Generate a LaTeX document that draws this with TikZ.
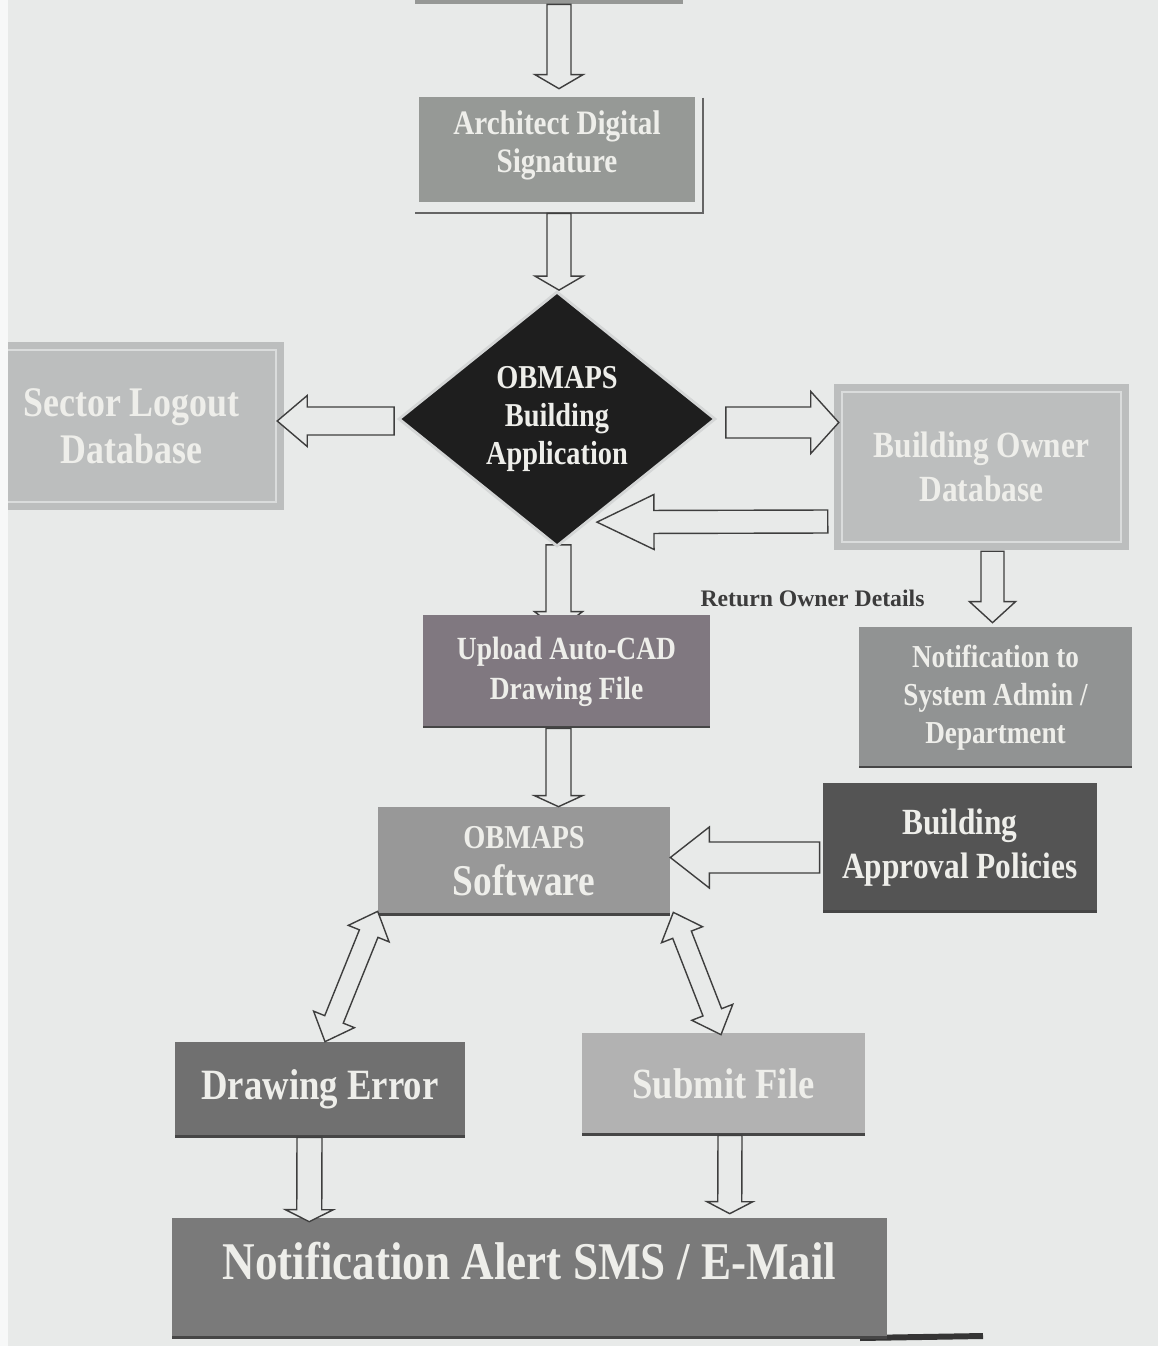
\documentclass[tikz,border=0pt]{standalone}
\usepackage{fontspec}
\setmainfont{Liberation Serif}
\newfontfamily\boxfont{Liberation Serif}[FakeStretch=0.85]
\usepackage{tikz}
\usetikzlibrary{calc,shapes.geometric,backgrounds}
\definecolor{pagebg}    {RGB}{232,234,233}
\definecolor{edgewhite} {RGB}{247,248,248}
\definecolor{arrline}   {RGB}{62,62,62}
\definecolor{boxtext}   {RGB}{238,238,234}
\definecolor{topgray}   {RGB}{150,152,150}
\definecolor{archgray}  {RGB}{150,153,150}
\definecolor{diamblack} {RGB}{30,30,30}
\definecolor{diamedge}  {RGB}{212,214,214}
\definecolor{dbgray}    {RGB}{188,190,190}
\definecolor{dbframe}   {RGB}{218,220,220}
\definecolor{notegray}  {RGB}{145,147,147}
\definecolor{uploadgray}{RGB}{128,120,128}
\definecolor{softgray}  {RGB}{152,152,152}
\definecolor{policygray}{RGB}{84,84,84}
\definecolor{errorgray} {RGB}{112,112,112}
\definecolor{submitgray}{RGB}{178,178,178}
\definecolor{alertgray} {RGB}{122,122,122}
\definecolor{labelgray} {RGB}{60,60,60}
\definecolor{edgedark}  {RGB}{70,70,70}
\def\pxu{0.02cm}
\tikzset{
  box/.style={rectangle,fill=#1,text=boxtext,align=center,inner sep=0pt,
              font=\boxfont\bfseries},
  boxsh/.style={box=#1,path picture={
              \draw[edgedark,line width=2.2pt]
                (path picture bounding box.south west) --
                (path picture bounding box.south east);}},
  dbbox/.style={box=dbgray,draw=dbgray,double=dbframe,double distance=1.6pt,
              line width=3.7pt},
  decision/.style={diamond,fill=diamblack,draw=diamedge,line width=1.6pt,
              text=boxtext,align=center,inner sep=0pt,font=\boxfont\bfseries},
  fs/.style 2 args={font=\boxfont\bfseries\fontsize{#1}{#2}\selectfont},
  hollow/.style={draw=arrline,fill=pagebg,line width=0.8pt,line join=miter},
  framedark/.style={draw=arrline!80,line width=1.2pt},
}
% block arrow: shaft half width, head half width, head length (px), from, to
\newcommand{\blockarrow}[5]{%
  \path (#4) coordinate (ba-a) (#5) coordinate (ba-b);
  \coordinate (ba-h) at ($(ba-b)!#3*\pxu!(ba-a)$);
  \filldraw[hollow] ($(ba-a)!#1*\pxu!90:(ba-b)$) -- ($(ba-h)!#1*\pxu!-90:(ba-a)$)
    -- ($(ba-h)!#2*\pxu!-90:(ba-a)$) -- (ba-b) -- ($(ba-h)!#2*\pxu!90:(ba-a)$)
    -- ($(ba-h)!#1*\pxu!90:(ba-a)$) -- ($(ba-a)!#1*\pxu!-90:(ba-b)$) -- cycle;
}
\newcommand{\blockarrowboth}[5]{%
  \path (#4) coordinate (ba-a) (#5) coordinate (ba-b);
  \coordinate (ba-h) at ($(ba-b)!#3*\pxu!(ba-a)$);
  \coordinate (ba-g) at ($(ba-a)!#3*\pxu!(ba-b)$);
  \filldraw[hollow] (ba-a) -- ($(ba-g)!#2*\pxu!90:(ba-b)$)
    -- ($(ba-g)!#1*\pxu!90:(ba-b)$) -- ($(ba-h)!#1*\pxu!-90:(ba-a)$)
    -- ($(ba-h)!#2*\pxu!-90:(ba-a)$) -- (ba-b) -- ($(ba-h)!#2*\pxu!90:(ba-a)$)
    -- ($(ba-h)!#1*\pxu!90:(ba-a)$) -- ($(ba-g)!#1*\pxu!-90:(ba-b)$)
    -- ($(ba-g)!#2*\pxu!-90:(ba-b)$) -- cycle;
}

\begin{document}
\begin{tikzpicture}[x=0.02cm,y=-0.02cm]
\begin{pgfonlayer}{background}
  \fill[pagebg] (0,0) rectangle (1158,1346);
  \draw[line width=3.4pt,color=diamblack!90] (860,1338) -- (983,1336);
\end{pgfonlayer}
\useasboundingbox (0,0) rectangle (1158,1346);
\clip (0,0) rectangle (1158,1346);

% boxes
\node[box=topgray,minimum width=5.36cm,minimum height=1.28cm] (prev) at (549,-28) {};
\node[box=archgray,minimum width=5.52cm,minimum height=2.1cm,fs={19.5}{21.5},
  text depth=0.32cm] (arch) at (557,149.5) {Architect Digital\\Signature};
\draw[framedark] ($(arch.north east)+(8,1)$) |- ($(arch.south west)+(-4,11)$);
\node[decision,minimum width=6.34cm,minimum height=5.1cm,fs={19}{21.5}]
  (diam) at (557,419) {OBMAPS\\Building\\Application};
\node[dbbox,minimum width=5.78cm,minimum height=3.04cm,fs={24}{26.6}]
  (sector) at (131.5,426) {Sector Logout\\Database};
\node[dbbox,minimum width=5.58cm,minimum height=3.0cm,fs={21}{25}]
  (owner) at (981.5,467) {Building Owner\\Database};
\node[boxsh=notegray,minimum width=5.46cm,minimum height=2.82cm,fs={18.2}{21.5}]
  (notifto) at (995.5,697.5) {Notification to\\System Admin /\\Department};
\node[boxsh=uploadgray,minimum width=5.74cm,minimum height=2.26cm,fs={18.4}{22.7}]
  (upload) at (566.5,671.5) {Upload Auto-CAD\\Drawing File};
\node[boxsh=softgray,minimum width=5.84cm,minimum height=2.16cm,fs={25}{26.6}]
  (software) at (524,861) {{\fontsize{19}{26.6}\selectfont OBMAPS}\\Software};
\node[boxsh=policygray,minimum width=5.48cm,minimum height=2.58cm,fs={21}{25}]
  (policies) at (960,847.5) {Building\\Approval Policies};
\node[boxsh=errorgray,minimum width=5.8cm,minimum height=1.9cm,fs={24.6}{28}]
  (error) at (320,1089.5) {Drawing Error};
\node[boxsh=submitgray,minimum width=5.66cm,minimum height=2.04cm,fs={24.5}{28}]
  (submit) at (723.5,1084) {Submit File};
\node[boxsh=alertgray,minimum width=14.3cm,minimum height=2.4cm,fs={30.2}{34},
  text depth=0.7cm] (alert) at (529.5,1278) {Notification Alert SMS / E-Mail};
\node[font=\bfseries\fontsize{13.5}{16}\selectfont,text=labelgray,inner sep=0pt]
  (retlbl) at (812.5,598) {Return Owner Details};

% connectors
\begin{pgfonlayer}{background}
  \blockarrow{12.5}{24}{18}{$(diam.south)+(1.5,-3)$}{$(upload.north)+(-8,15)$}
\end{pgfonlayer}
\blockarrow{12}{24}{14}{$(prev.south)+(10,0)$}{$(arch.north)+(2,-8)$}
\blockarrow{12}{24}{14}{$(arch.south)+(2,11)$}{$(diam.north)+(2,0)$}
\blockarrow{14}{25.5}{30}{$(diam.west)+(-3,2)$}{$(sector.east)+(-2,-5)$}
\blockarrow{15.5}{31}{28}{$(diam.east)+(9,3.5)$}{$(owner.west)+(0,-44.5)$}
\blockarrow{11.5}{27.5}{57}{$(owner.west)+(-11,54.5)$}{$($(diam.east)!0.8!(diam.south)$)+(8,0)$}
\blockarrow{11.5}{23}{21}{$(owner.south)+(11,6)$}{$(notifto.north)+(-3,-4)$}
\blockarrow{12.5}{24}{11}{$(upload.south)+(-8,0)$}{$(software.north)+(34.5,0)$}
\blockarrow{15.5}{30.5}{39}{$(policies.west)+(-3,10)$}{$(software.east)+(0,-3.5)$}
\blockarrowboth{10}{22}{24}{$(software.south west)+(0,-4)$}{$(error.north)+(5,0)$}
\blockarrowboth{10}{22}{24}{$(software.south east)+(3,-3)$}{$(submit.north)+(-2.5,2)$}
\blockarrow{12.5}{24}{12}{$(error.south)+(-10.5,0)$}{$(alert.north west)+(137.5,4)$}
\blockarrow{12}{23}{12}{$(submit.south)+(6.5,0)$}{$(alert.north west)+(558,-4)$}

\fill[edgewhite] (0,0) rectangle (8,1346);
\end{tikzpicture}
\end{document}
